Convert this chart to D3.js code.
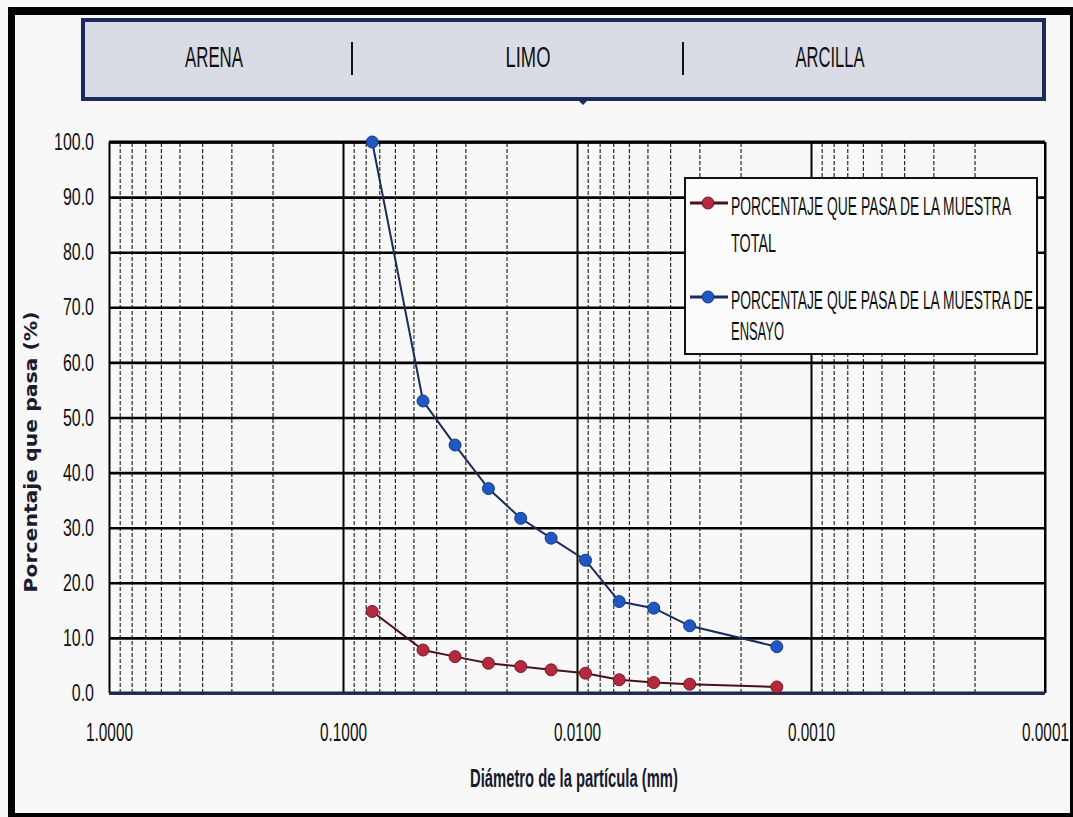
<!DOCTYPE html>
<html>
<head>
<meta charset="utf-8">
<script src="https://cdn.jsdelivr.net/npm/d3@7"></script>
<style>
  body { margin: 0; background: #fff; }
  svg { display: block; font-family: "Liberation Sans", Arial, sans-serif; }
</style>
</head>
<body>
<div id="chart"></div>
<script>
// Data
const diameters = [0.075, 0.0455, 0.0332, 0.0239, 0.0174, 0.0129, 0.0092, 0.0066, 0.0047, 0.0033, 0.0014];
const pasaTotal = [14.8, 7.8, 6.6, 5.4, 4.8, 4.2, 3.6, 2.4, 1.9, 1.6, 1.1];
const pasaEnsayo = [100.0, 53.0, 45.0, 37.1, 31.7, 28.1, 24.1, 16.6, 15.4, 12.2, 8.4];
const xTicks = [1, 0.1, 0.01, 0.001, 0.0001];
const yTicks = [0, 10, 20, 30, 40, 50, 60, 70, 80, 90, 100];
const zones = ["ARENA", "LIMO", "ARCILLA"];
const legendLines = [
  ["PORCENTAJE QUE PASA DE LA MUESTRA", "TOTAL"],
  ["PORCENTAJE QUE PASA DE LA MUESTRA DE", "ENSAYO"]
];

// Dimensions
const width = 1073;
const height = 817;
const margin = { top: 142, right: 28, bottom: 124, left: 109 };
const innerWidth = width - margin.left - margin.right;
const innerHeight = height - margin.top - margin.bottom;

const colors = {
  total: { fill: "#b32a3e", stroke: "#7a1424", line: "#4a1218" },
  ensayo: { fill: "#2157c0", stroke: "#123a8a", line: "#1a2b5c" }
};

// the scan is stretched vertically, so texts get squeezed in x with a transform
const scaleText = (node, k, base = "") => {
  const t = d3.select(node);
  const x = +t.attr("x") || 0;
  const y = +t.attr("y") || 0;
  t.attr("x", 0).attr("y", 0)
    .attr("transform", `translate(${x}, ${y}) ${base} scale(${k}, 1)`);
};
const fitTo = (sel, w, base = "") => sel.each(function () {
  scaleText(this, w / this.getComputedTextLength(), base);
});
// one factor for a group of labels, the widest gets width w
const fitWidest = (sel, w) => {
  const widest = d3.max(sel.nodes(), n => n.getComputedTextLength());
  sel.each(function () { scaleText(this, w / widest); });
};

const svg = d3.select("#chart")
  .append("svg")
    .attr("width", width)
    .attr("height", height);

svg.append("rect")
    .attr("width", width)
    .attr("height", height)
    .attr("fill", "#f8f8f8");

// scan frame
svg.append("rect").attr("x", 8).attr("y", 7).attr("width", width - 8).attr("height", 8).attr("fill", "#000");
svg.append("rect").attr("x", 8).attr("y", 7).attr("width", 7).attr("height", height - 7).attr("fill", "#000");
svg.append("rect").attr("x", 8).attr("y", 813).attr("width", width - 8).attr("height", 4).attr("fill", "#000");
svg.append("rect").attr("x", 1070).attr("y", 7).attr("width", 3).attr("height", height - 7).attr("fill", "#000");

// Header band
const header = svg.append("g").attr("class", "header");
header.append("rect")
    .attr("x", 83).attr("y", 20)
    .attr("width", 961).attr("height", 79)
    .attr("fill", "#d9dce5")
    .attr("stroke", "#1b2a5c")
    .attr("stroke-width", 4);
header.append("path")
    .attr("d", "M578,100 L588,100 L583,105 Z")
    .attr("fill", "#1b2a5c");
const zoneX = [214, 528, 830];
const zoneW = [58, 45, 69];
header.selectAll(".zone")
  .data(zones)
  .join("text")
    .attr("class", "zone")
    .attr("x", (d, i) => zoneX[i])
    .attr("y", 67)
    .attr("text-anchor", "middle")
    .attr("font-size", 30)
    .attr("fill", "#111")
    .text(d => d)
    .each(function (d, i) { d3.select(this).call(fitTo, zoneW[i]); });
header.selectAll(".sep")
  .data([352, 683])
  .join("line")
    .attr("class", "sep")
    .attr("x1", d => d).attr("x2", d => d)
    .attr("y1", 42).attr("y2", 75)
    .attr("stroke", "#111")
    .attr("stroke-width", 2);

// Plot
const g = svg.append("g")
    .attr("transform", `translate(${margin.left}, ${margin.top})`);

const xScale = d3.scaleLog()
  .domain([1, 0.0001])
  .range([0, innerWidth]);
const yScale = d3.scaleLinear()
  .domain([0, 100])
  .range([innerHeight, 0]);

// minor log grid (2..9 in each decade)
const minorTicks = [];
[-1, -2, -3, -4].forEach(e => {
  for (let m = 2; m <= 9; m++) minorTicks.push(+(m * Math.pow(10, e)).toPrecision(3));
});
const minorAxis = d3.axisBottom(xScale)
  .tickValues(minorTicks)
  .tickSize(-innerHeight)
  .tickFormat("");
g.append("g")
    .attr("class", "axis axis-minor")
    .attr("transform", `translate(0, ${innerHeight})`)
    .call(minorAxis)
    .call(a => a.select(".domain").remove())
    .call(a => a.selectAll("text").remove())
    .call(a => a.selectAll("line")
      .attr("stroke", "#2a2a2a")
      .attr("stroke-width", 1.2)
      .attr("stroke-dasharray", "4,2"));

// horizontal grid + y labels
const leftAxis = d3.axisLeft(yScale)
  .tickValues(yTicks)
  .tickSize(-innerWidth)
  .tickPadding(15)
  .tickFormat(d3.format(".1f"));
g.append("g")
    .attr("class", "axis axis-y")
    .call(leftAxis)
    .call(a => a.select(".domain").remove())
    .call(a => a.selectAll("line").attr("stroke", "#000").attr("stroke-width", 2.6))
    .call(a => a.selectAll("text")
      .attr("font-size", 24)
      .attr("fill", "#111")
      .call(fitWidest, 40));

// decade lines + x labels
const bottomAxis = d3.axisBottom(xScale)
  .tickValues(xTicks)
  .tickSize(-innerHeight)
  .tickPadding(30)
  .tickFormat(d3.format(".4f"));
g.append("g")
    .attr("class", "axis axis-x")
    .attr("transform", `translate(0, ${innerHeight})`)
    .call(bottomAxis)
    .call(a => a.select(".domain").remove())
    .call(a => a.selectAll("line").attr("stroke", "#000").attr("stroke-width", 2))
    .call(a => a.selectAll("text")
      .attr("font-size", 26)
      .attr("fill", "#111")
      .call(fitWidest, 47));

// plot frame
g.append("line")
    .attr("x1", 0).attr("x2", innerWidth)
    .attr("y1", 0).attr("y2", 0)
    .attr("stroke", "#000").attr("stroke-width", 3);
g.append("line")
    .attr("x1", innerWidth).attr("x2", innerWidth)
    .attr("y1", 0).attr("y2", innerHeight)
    .attr("stroke", "#000").attr("stroke-width", 2);
g.append("line")
    .attr("x1", 0).attr("x2", innerWidth)
    .attr("y1", innerHeight).attr("y2", innerHeight)
    .attr("stroke", "#1c2a52").attr("stroke-width", 3);

// Series
const series = [
  { key: "total", values: diameters.map((d, i) => ({ d, v: pasaTotal[i] })) },
  { key: "ensayo", values: diameters.map((d, i) => ({ d, v: pasaEnsayo[i] })) }
];
const line = d3.line()
  .x(p => xScale(p.d))
  .y(p => yScale(p.v));

const groups = g.append("g")
    .attr("class", "series")
  .selectAll(".serie")
  .data(series)
  .join("g")
    .attr("class", "serie");
groups.append("path")
    .attr("d", s => line(s.values))
    .attr("fill", "none")
    .attr("stroke", s => colors[s.key].line)
    .attr("stroke-width", 2);
groups.selectAll("circle")
  .data(s => s.values.map(p => ({ ...p, key: s.key })))
  .join("circle")
    .attr("cx", p => xScale(p.d))
    .attr("cy", p => yScale(p.v))
    .attr("r", 6)
    .attr("fill", p => colors[p.key].fill)
    .attr("stroke", p => colors[p.key].stroke)
    .attr("stroke-width", 1);

// Legend
const legend = svg.append("g").attr("class", "legend");
legend.append("rect")
    .attr("x", 685).attr("y", 178)
    .attr("width", 352).attr("height", 176)
    .attr("fill", "#fbfbfb")
    .attr("stroke", "#111")
    .attr("stroke-width", 2);
const legendY = [203, 297];
const legendW = [[280, 45], [302, 53]];
const items = legend.selectAll(".item")
  .data(series)
  .join("g")
    .attr("class", "item")
    .attr("transform", (d, i) => `translate(0, ${legendY[i]})`);
items.append("line")
    .attr("x1", 690).attr("x2", 728)
    .attr("stroke", s => colors[s.key].line)
    .attr("stroke-width", 3);
items.append("circle")
    .attr("cx", 708).attr("r", 6)
    .attr("fill", s => colors[s.key].fill)
    .attr("stroke", s => colors[s.key].stroke);
items.each(function (s, i) {
  legendLines[i].forEach((t, j) => {
    d3.select(this).append("text")
        .attr("x", 731)
        .attr("y", j === 0 ? 12 : 49 - (i === 1 ? 6 : 0))
        .attr("font-size", 26)
        .attr("fill", "#111")
        .text(t)
        .call(fitTo, legendW[i][j]);
  });
});

// Axis titles
svg.append("text")
    .attr("x", 574)
    .attr("y", 787)
    .attr("text-anchor", "middle")
    .attr("font-size", 26)
    .attr("font-weight", "bold")
    .attr("fill", "#151a30")
    .text("Diámetro de la partícula (mm)")
    .call(fitTo, 208);
svg.append("text")
    .attr("x", 37)
    .attr("y", 452)
    .attr("text-anchor", "middle")
    .attr("font-family", "'DejaVu Sans', Verdana, sans-serif")
    .attr("font-size", 17)
    .attr("font-weight", "bold")
    .attr("fill", "#1b1b2f")
    .text("Porcentaje que pasa (%)")
    .call(fitTo, 281, "rotate(-90)");
</script>
</body>
</html>
